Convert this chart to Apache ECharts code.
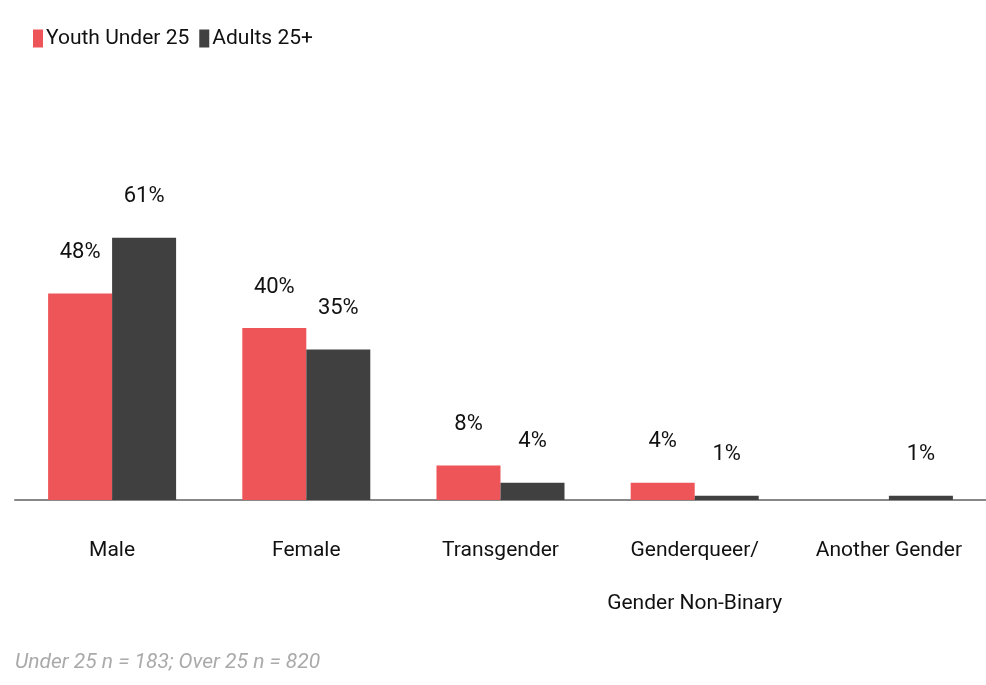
<!DOCTYPE html>
<html>
<head>
<meta charset="utf-8">
<script src="https://cdn.jsdelivr.net/npm/echarts@6/dist/echarts.min.js"></script>
<style>
  html, body { margin: 0; padding: 0; background: #fff; }
  #container { width: 986px; height: 685px; }
</style>
</head>
<body>
<div id="container"></div>
<script>
var categories = ['Male', 'Female', 'Transgender', 'Genderqueer/\nGender Non-Binary', 'Another Gender'];
var youthValues = [48, 40, 8, 4, 0];
var adultValues = [61, 35, 4, 1, 1];
var seriesNames = ['Youth Under 25', 'Adults 25+'];
var footnote = 'Under 25 n = 183; Over 25 n = 820';

var FONT = '"Roboto", sans-serif';

var dom = document.getElementById('container');
var myChart = echarts.init(dom);

var labelFmt = function (p) {
    return p.value ? p.value + '%' : '';
};

var option = {
    color: ['#EE5558', '#404040'],
    textStyle: { fontFamily: FONT },
    legend: {
        left: 28,
        top: 23,
        icon: 'rect',
        itemWidth: 10,
        itemHeight: 18,
        itemGap: 10,
        itemStyle: { borderWidth: 0 },
        textStyle: { fontSize: 21, color: '#111', fontFamily: FONT, padding: [0, 0, 0, -2] },
        data: seriesNames
    },
    graphic: [{
        type: 'text',
        left: 15,
        top: 652,
        style: {
            text: footnote,
            fontSize: 21,
            fontStyle: 'italic',
            fill: '#aaaaaa',
            fontFamily: FONT
        }
    }],
    grid: {
        left: 15,
        right: 0,
        top: 70,
        height: 430,
        containLabel: false
    },
    xAxis: {
        type: 'category',
        data: categories,
        axisLine: { lineStyle: { color: '#888', width: 2 } },
        axisTick: { show: false },
        axisLabel: {
            fontSize: 21,
            color: '#111',
            lineHeight: 53,
            margin: 24,
            fontFamily: FONT,
            interval: 0
        }
    },
    yAxis: {
        type: 'value',
        min: 0,
        max: 100,
        show: false,
        splitLine: { show: false }
    },
    series: [
        {
            name: seriesNames[0],
            type: 'bar',
            data: youthValues,
            barWidth: 64,
            barGap: '0%',
            label: {
                show: true,
                position: 'top',
                distance: 30,
                fontSize: 22,
                color: '#111',
                fontFamily: FONT,
                formatter: labelFmt
            }
        },
        {
            name: seriesNames[1],
            type: 'bar',
            data: adultValues,
            barWidth: 64,
            barGap: '0%',
            label: {
                show: true,
                position: 'top',
                distance: 30,
                fontSize: 22,
                color: '#111',
                fontFamily: FONT,
                formatter: labelFmt
            }
        }
    ]
};

myChart.setOption(option);
</script>
</body>
</html>
